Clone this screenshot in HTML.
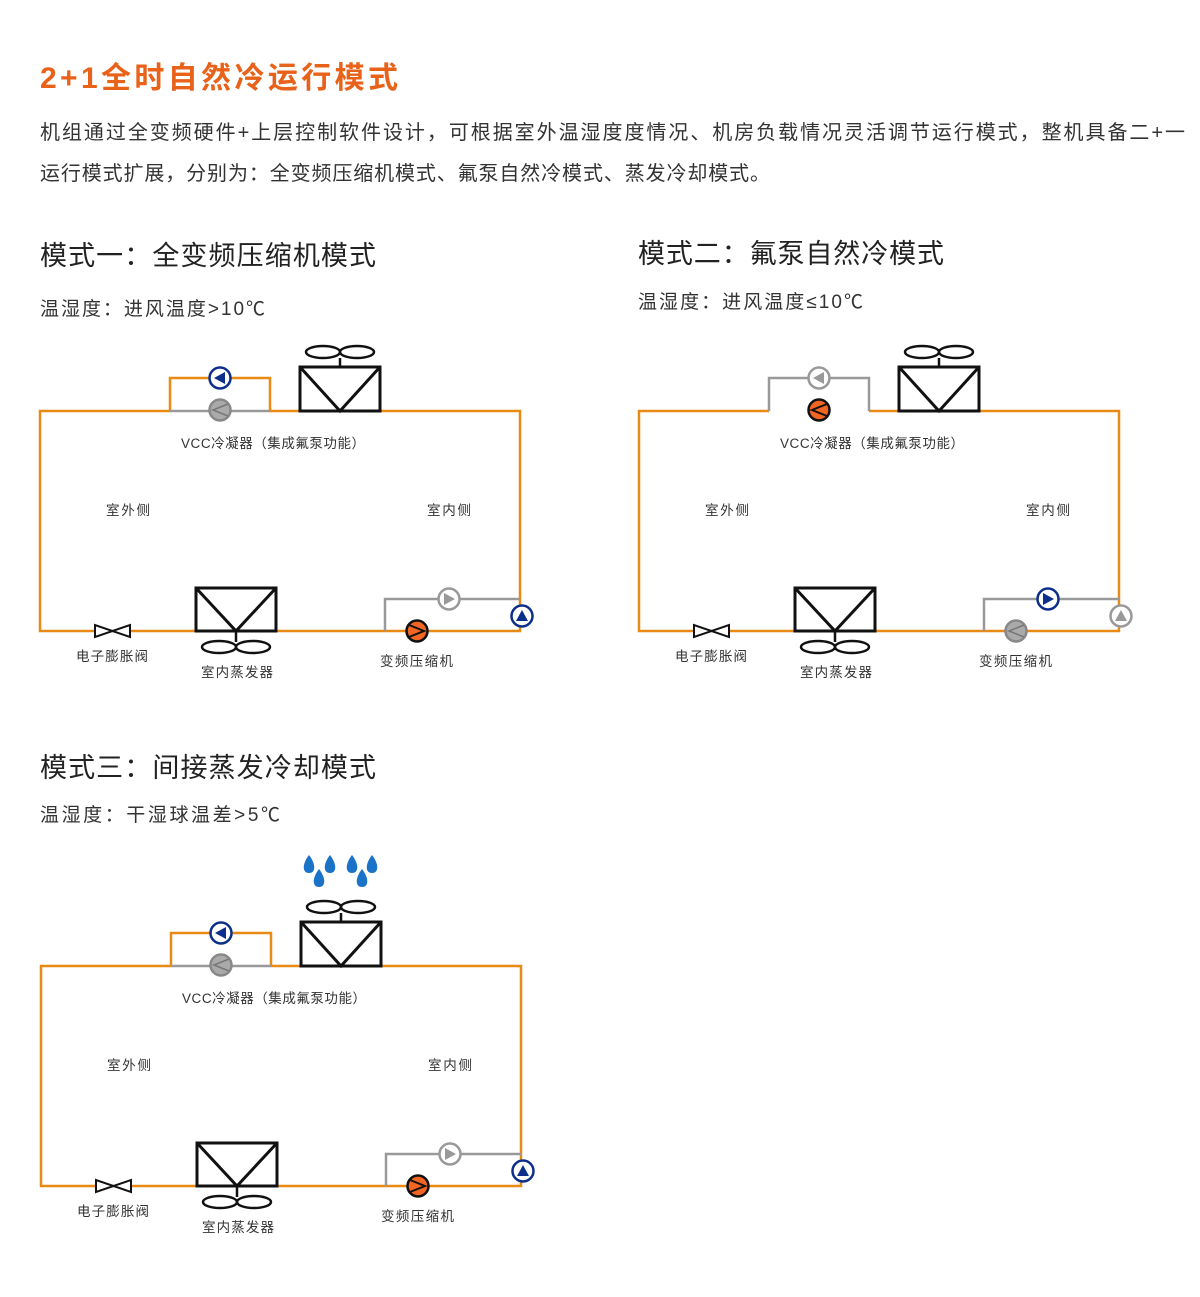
<!DOCTYPE html>
<html><head><meta charset="utf-8"><style>
html,body{margin:0;padding:0;background:#fff;}
svg{display:block;font-family:"Liberation Sans","Noto Sans CJK SC",sans-serif;}
</style></head><body>
<svg width="1200" height="1297" viewBox="0 0 1200 1297" xmlns="http://www.w3.org/2000/svg">
<defs>
  <g id="cond">
    <rect x="300" y="367" width="80" height="44" fill="#fff" stroke="#111" stroke-width="3"/>
    <path d="M300 367 L340 411 L380 367" fill="none" stroke="#111" stroke-width="3"/>
    <line x1="340" y1="358" x2="340" y2="367" stroke="#111" stroke-width="2.5"/>
    <ellipse cx="323" cy="352" rx="17" ry="6" fill="none" stroke="#111" stroke-width="2.5"/>
    <ellipse cx="357" cy="352" rx="17" ry="6" fill="none" stroke="#111" stroke-width="2.5"/>
  </g>
  <g id="evap">
    <rect x="196" y="588" width="80" height="43" fill="#fff" stroke="#111" stroke-width="3"/>
    <path d="M196 588 L236 631 L276 588" fill="none" stroke="#111" stroke-width="3"/>
    <line x1="236" y1="631" x2="236" y2="642" stroke="#111" stroke-width="2.5"/>
    <ellipse cx="219" cy="647" rx="17" ry="6" fill="none" stroke="#111" stroke-width="2.5"/>
    <ellipse cx="253" cy="647" rx="17" ry="6" fill="none" stroke="#111" stroke-width="2.5"/>
  </g>
  <g id="valve">
    <path d="M95 625 L95 637 L130 625 L130 637 Z" fill="#fff" stroke="#111" stroke-width="2"/>
  </g>
  <g id="labels" font-size="13.5" fill="#333">
    <text x="181" y="448" textLength="184">VCC冷凝器（集成氟泵功能）</text>
    <text x="106" y="515" textLength="44">室外侧</text>
    <text x="427" y="515" textLength="44">室内侧</text>
    <text x="76" y="661" textLength="72">电子膨胀阀</text>
    <text x="201" y="677" textLength="72">室内蒸发器</text>
    <text x="380" y="666" textLength="73">变频压缩机</text>
  </g>
  <g id="pBlueL"><circle r="10.5" fill="#fff" stroke="#0d2f8c" stroke-width="2.5"/><path d="M-6 0 L5 -6 L5 6 Z" fill="#0d2f8c"/></g>
  <g id="pBlueR"><circle r="10.5" fill="#fff" stroke="#0d2f8c" stroke-width="2.5"/><path d="M6 0 L-5 -6 L-5 6 Z" fill="#0d2f8c"/></g>
  <g id="pBlueU"><circle r="10.5" fill="#fff" stroke="#0d2f8c" stroke-width="2.5"/><path d="M0 -6 L-6 5 L6 5 Z" fill="#0d2f8c"/></g>
  <g id="pGrayL"><circle r="10.5" fill="#fff" stroke="#999" stroke-width="2.5"/><path d="M-6 0 L5 -6 L5 6 Z" fill="#999"/></g>
  <g id="pGrayR"><circle r="10.5" fill="#fff" stroke="#999" stroke-width="2.5"/><path d="M6 0 L-5 -6 L-5 6 Z" fill="#999"/></g>
  <g id="pGrayU"><circle r="10.5" fill="#fff" stroke="#999" stroke-width="2.5"/><path d="M0 -6 L-6 5 L6 5 Z" fill="#999"/></g>
  <g id="cOrL"><circle r="10.5" fill="#f26522" stroke="#111" stroke-width="2.5"/><path d="M8 -6 L-7 0 L8 6" fill="none" stroke="#111" stroke-width="2"/></g>
  <g id="cOrR"><circle r="10.5" fill="#f26522" stroke="#111" stroke-width="2.5"/><path d="M-8 -6 L7 0 L-8 6" fill="none" stroke="#111" stroke-width="2"/></g>
  <g id="cGrL"><circle r="10.5" fill="#aaa" stroke="#888" stroke-width="2.5"/><path d="M8 -6 L-7 0 L8 6" fill="none" stroke="#777" stroke-width="1.5"/></g>
</defs>

<text x="40" y="88" font-size="30" font-weight="bold" fill="#e8621a" textLength="358">2+1全时自然冷运行模式</text>
<text x="40" y="139" font-size="20" fill="#333" textLength="1145">机组通过全变频硬件+上层控制软件设计，可根据室外温湿度度情况、机房负载情况灵活调节运行模式，整机具备二+一</text>
<text x="40" y="180" font-size="20" fill="#333" textLength="730">运行模式扩展，分别为：全变频压缩机模式、氟泵自然冷模式、蒸发冷却模式。</text>

<text x="40" y="265" font-size="27" fill="#222" textLength="336">模式一：全变频压缩机模式</text>
<text x="40" y="315" font-size="19" fill="#333" textLength="225">温湿度：进风温度&gt;10℃</text>
<text x="638" y="263" font-size="27" fill="#222" textLength="306">模式二：氟泵自然冷模式</text>
<text x="638" y="308" font-size="19" fill="#333" textLength="225">温湿度：进风温度≤10℃</text>
<text x="40" y="777" font-size="27" fill="#222" textLength="336">模式三：间接蒸发冷却模式</text>
<text x="40" y="821" font-size="19" fill="#333" textLength="240">温湿度：干湿球温差&gt;5℃</text>

<g>
  <path d="M170 411 L40 411 L40 631 L520 631 L520 411 L270 411" fill="none" stroke="#e88a14" stroke-width="2.5"/>
  <path d="M170 411 L170 378 L270 378 L270 411" fill="none" stroke="#e88a14" stroke-width="2.5"/>
  <line x1="170" y1="411" x2="270" y2="411" stroke="#999" stroke-width="2.5"/>
  <path d="M385 631 L385 599 L520 599" fill="none" stroke="#999" stroke-width="2.5"/>
  <use href="#cond"/><use href="#evap"/><use href="#valve"/><use href="#labels"/>
  <use href="#pBlueL" x="220" y="378"/>
  <use href="#cGrL" x="220" y="410"/>
  <use href="#pGrayR" x="449" y="599"/>
  <use href="#cOrR" x="417" y="631"/>
  <use href="#pBlueU" x="522" y="616"/>
</g>

<g transform="translate(599,0)">
  <path d="M170 411 L40 411 L40 631 L520 631 L520 411 L270 411" fill="none" stroke="#e88a14" stroke-width="2.5"/>
  <path d="M170 411 L170 378 L270 378 L270 411" fill="none" stroke="#999" stroke-width="2.5"/>
  <path d="M385 631 L385 599 L520 599" fill="none" stroke="#999" stroke-width="2.5"/>
  <use href="#cond"/><use href="#evap"/><use href="#valve"/><use href="#labels"/>
  <use href="#pGrayL" x="220" y="378"/>
  <use href="#cOrL" x="220" y="410"/>
  <use href="#pBlueR" x="449" y="599"/>
  <use href="#cGrL" x="417" y="631"/>
  <use href="#pGrayU" x="522" y="616"/>
</g>

<g transform="translate(1,555)">
  <path d="M170 411 L40 411 L40 631 L520 631 L520 411 L270 411" fill="none" stroke="#e88a14" stroke-width="2.5"/>
  <path d="M170 411 L170 378 L270 378 L270 411" fill="none" stroke="#e88a14" stroke-width="2.5"/>
  <line x1="170" y1="411" x2="270" y2="411" stroke="#999" stroke-width="2.5"/>
  <path d="M385 631 L385 599 L520 599" fill="none" stroke="#999" stroke-width="2.5"/>
  <use href="#cond"/><use href="#evap"/><use href="#valve"/><use href="#labels"/>
  <use href="#pBlueL" x="220" y="378"/>
  <use href="#cGrL" x="220" y="410"/>
  <use href="#pGrayR" x="449" y="599"/>
  <use href="#cOrR" x="417" y="631"/>
  <use href="#pBlueU" x="522" y="616"/>
</g>

<g fill="#1a73c8">
  <path d="M309 855 C302 864 302 873 309 873 C316 873 316 864 309 855 Z"/>
  <path d="M330 855 C323 864 323 873 330 873 C337 873 337 864 330 855 Z"/>
  <path d="M319 869 C312 878 312 887 319 887 C326 887 326 878 319 869 Z"/>
  <path d="M352 855 C345 864 345 873 352 873 C359 873 359 864 352 855 Z"/>
  <path d="M372 855 C365 864 365 873 372 873 C379 873 379 864 372 855 Z"/>
  <path d="M362 869 C355 878 355 887 362 887 C369 887 369 878 362 869 Z"/>
</g>
</svg>
</body></html>
